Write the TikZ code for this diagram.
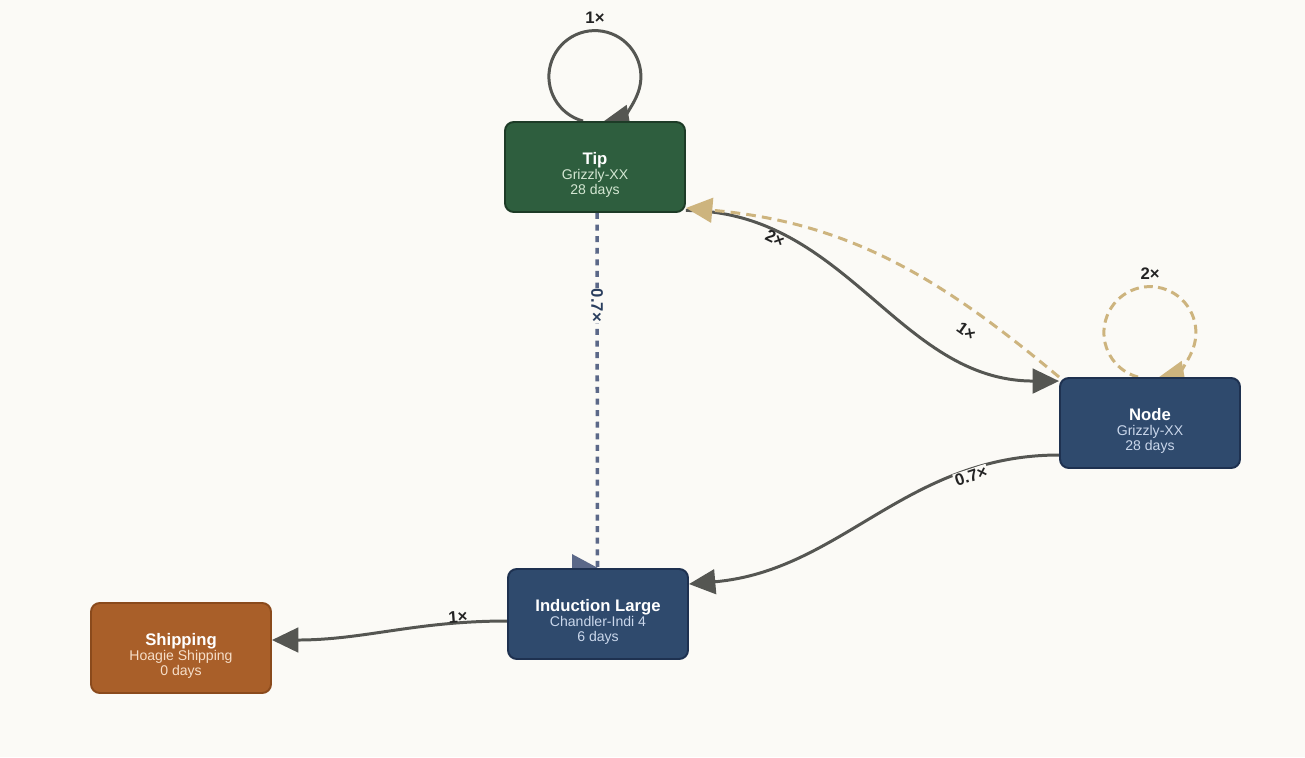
\documentclass[tikz,border=0pt]{standalone}
\usepackage{fontspec}
\setmainfont{Liberation Sans}
\usetikzlibrary{arrows.meta,calc}

\definecolor{paper}{HTML}{FBFAF6}
\definecolor{wire}{HTML}{555652}
\definecolor{tan}{HTML}{CDB47E}
\definecolor{slate}{HTML}{5B6888}
\definecolor{navy}{HTML}{2A3E5E}
\definecolor{ink}{HTML}{232323}
\definecolor{tipfill}{HTML}{2E5E3E}
\definecolor{tipdraw}{HTML}{1D3B27}
\definecolor{tipsub}{HTML}{D3E6D2}
\definecolor{stepfill}{HTML}{2F4A6D}
\definecolor{stepdraw}{HTML}{1E3150}
\definecolor{stepsub}{HTML}{CAD7EB}
\definecolor{shipfill}{HTML}{A95F29}
\definecolor{shipdraw}{HTML}{8A4A1C}
\definecolor{shipsub}{HTML}{F6DEC8}

\pgfdeclarelayer{back}
\pgfdeclarelayer{wires}
\pgfsetlayers{back,wires,main}

\newcommand{\stagetext}[4]{\rule{0pt}{16pt}\textbf{\fontsize{9.5}{8.5}\selectfont #1}\\\textcolor{#4}{#2}\\\textcolor{#4}{#3}}

\begin{document}
\begin{tikzpicture}[
  stage/.style={draw, rounded corners=5pt, line width=1.1pt, minimum width=3.6cm, minimum height=1.8cm,
    inner sep=0pt, align=center, text=white, font=\fontsize{8}{8.5}\selectfont},
  greenbox/.style={fill=tipfill, draw=tipdraw},
  bluebox/.style={fill=stepfill, draw=stepdraw},
  orangebox/.style={fill=shipfill, draw=shipdraw},
  flow/.style={draw=wire, line width=1.7pt, -{Triangle[length=15pt,width=14pt]}},
  lbl/.style={font=\bfseries\fontsize{9.5}{10}\selectfont, text=ink, inner sep=0.6pt}
]
  \useasboundingbox (0,0) rectangle (26.1,-15.14);
  \begin{pgfonlayer}{back}
    \fill[paper] (0,0) rectangle (26.1,-15.14);
  \end{pgfonlayer}

  \foreach \x/\y/\z/\t/\s/\d/\k/\m in {11.9/-3.34/Tip/Tip/Grizzly-XX/28 days/greenbox/tipsub,
    23.0/-8.46/Node/Node/Grizzly-XX/28 days/bluebox/stepsub,
    11.96/-12.28/Induction/Induction Large/Chandler-Indi 4/6 days/bluebox/stepsub,
    3.62/-12.96/Shipping/Shipping/Hoagie Shipping/0 days/orangebox/shipsub}
  {
    \node[stage, \k] (\z) at (\x, \y) {\stagetext{\t}{\s}{\d}{\m}};
  }

  \begin{pgfonlayer}{wires}
    \path[flow] ($(Tip.north)+(-0.24,0)$) arc[start angle=-105, end angle=-440, radius=0.92];
    \path[flow, draw=tan, dash pattern=on 5pt off 3pt] ($(Node.north)+(-0.24,0)$) arc[start angle=-105, end angle=-440, radius=0.92];
    \path[flow] ($(Tip.south east)+(0,0.05)$) to[out=0, in=180] node[lbl, pos=.22, sloped, below=-0.3pt] {2×} ($(Node.north west)+(0,-0.08)$);
    \path[flow, draw=tan, dash pattern=on 5.5pt off 3.5pt] (Node.north west) to[out=140, in=-5] node[lbl, pos=.23, sloped, below=7pt] {1×} ($(Tip.south east)+(0,0.1)$);
    \path[draw=slate, line width=2pt, dash pattern=on 3.4pt off 3.2pt] ($(Tip.south)+(0.04,0)$) -- node[lbl, fill=paper, text=navy, rotate=-90, pos=.26] {0.7×} ($(Induction.north)+(-0.01,0)$);
    \fill[slate] ($(Induction.north)+(-0.52,0.28)$) -- (Induction.north) -- ($(Induction.north)+(-0.52,0)$) -- cycle;
    \path[flow] ($(Node.west)+(0,-0.64)$) to[out=180, in=5] node[lbl, fill=paper, pos=.22, sloped, below=-1pt] {0.7×} ($(Induction.north east)+(0,-0.32)$);
    \path[flow] ($(Induction.west)+(0,-0.14)$) to[out=180, in=0] node[lbl, pos=.19, sloped, above=-1.5pt] {1×} ($(Shipping.east)+(0,0.16)$);
  \end{pgfonlayer}

  \path (Tip.north) ++(0,2.06) node[lbl] {1×};
  \path (Node.north) ++(0,2.06) node[lbl] {2×};
\end{tikzpicture}
\end{document}
